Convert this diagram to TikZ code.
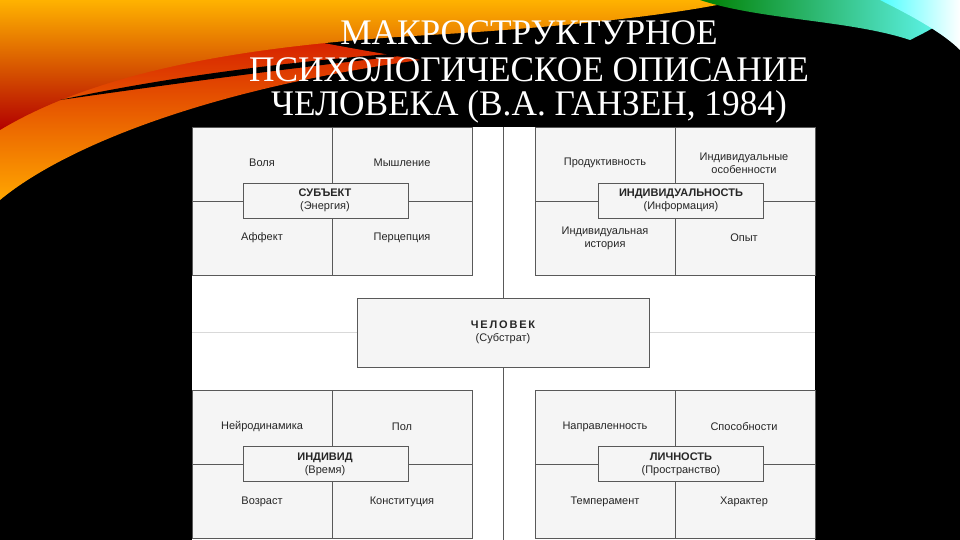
\documentclass[tikz,border=0pt]{standalone}
\usepackage{fontspec}
\setmainfont{Liberation Serif}
\newfontfamily\dsans{Liberation Sans}
\begin{document}
\begin{tikzpicture}[x=1pt,y=-1pt,
  cell/.style={draw=black!65,line width=0.9pt,fill=black!4},
  lbl/.style={font=\dsans\fontsize{11}{13}\selectfont,align=center,text=black!85},
  ttl/.style={font=\fontsize{36}{38}\selectfont,text=white,xscale=0.98,transform shape}]
\useasboundingbox (0,0) rectangle (960,540);
\fill[black] (0,0) rectangle (960,540);
% swooshes
\shade[left color=red!80!black,right color=orange!70!yellow,shading angle=0]
  (0,0) -- (0,200) .. controls (60,150) and (200,90) .. (420,60) .. controls (300,40) and (200,20) .. (150,0) -- cycle;
\shade[top color=orange!60!yellow,bottom color=red!70!black]
  (0,0) -- (0,130) .. controls (100,70) and (250,45) .. (430,35) .. controls (600,25) and (700,10) .. (740,0) -- cycle;
\fill[black] (60,100) .. controls (200,70) and (350,55) .. (480,48) .. controls (350,60) and (200,80) .. (60,100) -- cycle;
\shade[left color=green!50!black,right color=cyan!60!white]
  (700,0) .. controls (760,20) and (850,20) .. (910,40) .. controls (930,30) and (950,20) .. (960,5) -- (960,0) -- cycle;
\shade[left color=cyan!70!white,right color=white]
  (880,0) .. controls (920,20) and (945,35) .. (960,50) -- (960,0) -- cycle;
% title
\node[ttl] (t1) at (529,33) {МАКРОСТРУКТУРНОЕ};
\node[ttl] (t2) at (529,70) {ПСИХОЛОГИЧЕСКОЕ ОПИСАНИЕ};
\node[ttl] (t3) at (529,107) {ЧЕЛОВЕКА (В.А. ГАНЗЕН, 1984)};
% panel
\fill[white] (192,127) rectangle (815,540);
\draw[black!15,line width=0.8pt] (192,332) -- (815,332);
\draw[black!65,line width=0.9pt] (503,127) -- (503,540);
\foreach \qx/\qy/\bx in {192/127/51,535/127/63,192/390/51,535/390/63}{
  \draw[cell] (\qx,\qy) rectangle ++(280,148);
  \draw[black!65,line width=0.9pt] (\qx+140,\qy) -- ++(0,148);
  \draw[black!65,line width=0.9pt] (\qx,\qy+74) -- ++(280,0);
  \draw[cell] (\qx+\bx,\qy+56) rectangle ++(165,35);
}
\draw[cell] (357,298) rectangle (649,367);
\node[lbl] (hum) at (503,332) {\textbf{Ч\,Е\,Л\,О\,В\,Е\,К}\\(Субстрат)};
% top-left
\node[lbl] (a0) at (262,163) {Воля};
\node[lbl] (a1) at (402,163) {Мышление};
\node[lbl] (a2) at (262,238) {Аффект};
\node[lbl] (a3) at (402,238) {Перцепция};
\node[lbl] (ac) at (325,200) {\textbf{СУБЪЕКТ}\\(Энергия)};
% top-right
\node[lbl] (b0) at (605,163) {Продуктивность};
\node[lbl] (b1) at (744,163) {Индивидуальные\\особенности};
\node[lbl] (b2) at (605,238) {Индивидуальная\\история};
\node[lbl] (b3) at (744,238) {Опыт};
\node[lbl] (bc) at (681,200) {\textbf{ИНДИВИДУАЛЬНОСТЬ}\\(Информация)};
% bottom-left
\node[lbl] (c0) at (262,427) {Нейродинамика};
\node[lbl] (c1) at (402,427) {Пол};
\node[lbl] (c2) at (262,502) {Возраст};
\node[lbl] (c3) at (402,502) {Конституция};
\node[lbl] (cc) at (325,464) {\textbf{ИНДИВИД}\\(Время)};
% bottom-right
\node[lbl] (d0) at (605,427) {Направленность};
\node[lbl] (d1) at (744,427) {Способности};
\node[lbl] (d2) at (605,502) {Темперамент};
\node[lbl] (d3) at (744,502) {Характер};
\node[lbl] (dc) at (681,464) {\textbf{ЛИЧНОСТЬ}\\(Пространство)};
\end{tikzpicture}
\end{document}
